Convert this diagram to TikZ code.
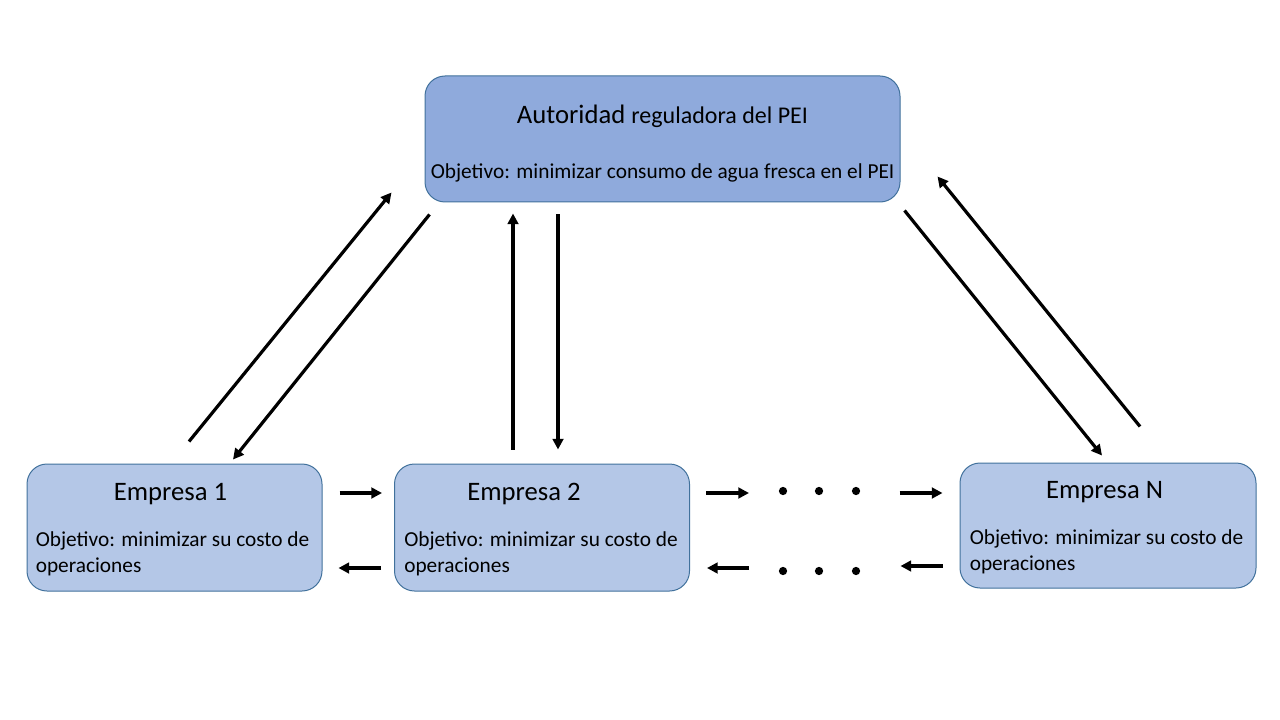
\documentclass[tikz,border=0pt]{standalone}
\usepackage{fontspec}
\setmainfont{Carlito}
\usetikzlibrary{calc,arrows.meta}

\definecolor{autfill}{RGB}{143,170,220}
\definecolor{empfill}{RGB}{180,199,231}
\definecolor{boxline}{RGB}{65,113,156}

\tikzset{
  box/.style={draw=boxline, line width=0.75pt, rounded corners=15pt, inner sep=0pt},
  titletext/.style={anchor=base, inner sep=0pt, font=\fontsize{20}{24}\selectfont},
  goaltext/.style={anchor=base west, inner sep=0pt, align=left, font=\fontsize{16}{19.5}\selectfont},
  flow/.style={line width=2.4pt, -{Triangle[length=8pt,width=8pt]}}
}

\begin{document}
\begin{tikzpicture}[x=0.75pt,y=-0.75pt]
    \useasboundingbox (0,0) rectangle (1280,720);
    % boxes
    \node[box, fill=autfill, minimum width=356.25pt, minimum height=94.5pt] (aut) at (662.5,139) {};
    \node[box, fill=empfill, minimum width=221.25pt, minimum height=95.25pt] (e1) at (174.5,527.5) {};
    \node[box, fill=empfill, minimum width=221.25pt, minimum height=95.25pt] (e2) at (542,527.5) {};
    \node[box, fill=empfill, minimum width=222pt, minimum height=93.75pt] (eN) at (1108,525.5) {};
    % texts
    \node[titletext] (aut-t) at ($(aut.north)+(0,48)$) {Autoridad {\fontsize{18}{22}\selectfont reguladora del PEI}};
    \node[goaltext] (aut-o) at ($(aut.west)+(6,40)$) {Objetivo: minimizar consumo de agua fresca en el PEI};
    \node[titletext] (e1-t) at ($(e1.north)+(-4,37)$) {Empresa 1};
    \node[goaltext] (e1-o) at ($(e1.west)+(9,45)$) {Objetivo: minimizar su costo de\\operaciones};
    \node[titletext] (e2-t) at ($(e2.north)+(-18,37)$) {Empresa 2};
    \node[goaltext] (e2-o) at ($(e2.west)+(10,45)$) {Objetivo: minimizar su costo de\\operaciones};
    \node[titletext] (eN-t) at ($(eN.north)+(-3.5,36)$) {Empresa N};
    \node[goaltext] (eN-o) at ($(eN.west)+(10,45)$) {Objetivo: minimizar su costo de\\operaciones};
    % vertical and diagonal links
    \draw[flow] ($(e1.north)+(14.5,-22)$) -- ($(aut.south west)+(-33,-10)$);
    \draw[flow] ($(aut.south west)+(5,12)$) -- ($(e1.north)+(58.5,-4)$);
    \draw[flow] ($(e2.north)+(-29,-14)$) -- ($(aut.south)+(-149.5,11)$);
    \draw[flow] ($(aut.south)+(-104.5,12)$) -- ($(e2.north)+(16,-14)$);
    \draw[flow] ($(aut.south east)+(4,8)$) -- ($(eN.north)+(-6,-7)$);
    \draw[flow] ($(eN.north)+(32,-36)$) -- ($(aut.south east)+(37,-26)$);
    % horizontal links
    \draw[flow] ($(e1.east)+(17,-34.5)$) -- ($(e2.west)+(-12,-34.5)$);
    \draw[flow] ($(e2.west)+(-13,40.5)$) -- ($(e1.east)+(16,40.5)$);
    \draw[flow] ($(e2.east)+(16,-34.5)$) -- ($(e2.east)+(59,-34.5)$);
    \draw[flow] ($(eN.west)+(-60,-32.5)$) -- ($(eN.west)+(-17,-32.5)$);
    \draw[flow] ($(eN.west)+(-17,40.5)$) -- ($(eN.west)+(-59,40.5)$);
    \draw[flow] ($(e2.east)+(59,40.5)$) -- ($(e2.east)+(17,40.5)$);
    % dots
    \foreach \dx in {93,129,166} {
      \fill ($(e2.east)+(\dx,-36.5)$) circle (3.1pt);
      \fill ($(e2.east)+(\dx,43.5)$) circle (3.1pt);
    }
\end{tikzpicture}
\end{document}
